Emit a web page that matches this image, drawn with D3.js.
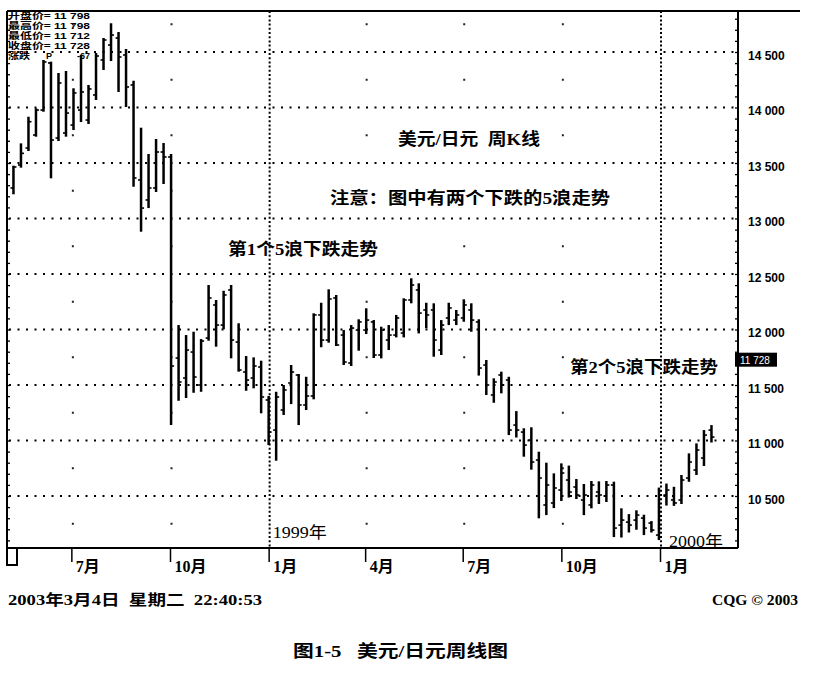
<!DOCTYPE html>
<html><head><meta charset="utf-8">
<script src="https://cdn.jsdelivr.net/npm/d3@7"></script>
<style>body{margin:0;background:#fff;}svg{display:block;}text{white-space:pre;}</style>
</head><body>
<script>
// ---- data (USD/JPY weekly, x100) ----
const firstWeek = new Date(1998, 4, 8);
const opens = [13275,13482,13635,13752,13977,14401,13725,13770,13842,13977,13887,14113,14428,14563,14626,14473,14203,13347,13167,13275,13599,13554,
  11743,11563,11797,11500,11923,12221,12040,12356,11887,11617,11563,11662,11365,11094,11275,11518,11590,11320,11401,12131,11905,12284,
  11950,11698,11995,11995,12068,11770,11905,11950,11968,12266,
  12356,12176,12176,11815,12104,12085,12104,12176,12068,11680,
  11410,11590,11545,11139,11076,11004,10824,10419,10437,10554,
  10644,10581,10464,10419,10536,10500,10599,10238,10265,10283,
  10301,10256,10148,10509,10464,10464,10662,10734,10842,11094];
const highs = [13476,13677,13917,13993,14428,14413,14311,14329,14173,14473,14203,14491,14626,14759,14680,14527,14241,13818,13581,13716,13680,13581,
  12040,11950,11980,11914,12401,12266,12349,12401,12056,11761,11749,11719,11401,11439,11500,11680,11599,11574,12146,12241,12362,12311,
  11995,12040,12092,12191,12085,12025,12040,12131,12281,12461,
  12416,12241,12236,12085,12241,12176,12272,12236,12092,11725,
  11560,11620,11574,11265,11110,11119,10899,10800,10704,10794,
  10774,10653,10608,10635,10632,10635,10629,10389,10337,10371,
  10331,10274,10576,10612,10583,10689,10884,10974,11094,11139];
const lows = [13218,13458,13608,13737,13962,13362,13698,13737,13797,13869,13851,14068,14338,14419,14140,14004,13286,12881,13094,13239,13311,11139,
  11358,11383,11430,11439,11899,11845,12002,11740,11620,11448,11470,11245,10959,10818,11230,11328,11139,11275,11371,11840,11881,11851,
  11680,11671,11809,11959,11743,11740,11815,11929,11929,12236,
  11965,12011,11755,11770,12040,12040,12070,11980,11585,11410,
  11340,11425,11049,11027,10854,10737,10299,10328,10391,10455,
  10486,10473,10328,10389,10428,10446,10130,10126,10171,10196,
  10148,10171,10103,10414,10411,10428,10628,10689,10770,10982];
const closes = [13464,13587,13872,13977,14410,13707,14221,13950,14131,14140,14167,14464,14608,14653,14455,14185,13365,13094,13275,13599,13554,11671,
  11527,11815,11572,11896,12284,12040,12311,11905,11635,11545,11671,11392,11076,11392,11455,11617,11320,11401,12131,11905,12275,11860,
  11707,12013,12068,12085,11770,11995,11950,12104,12266,12401,
  12148,12131,11905,12040,12194,12131,12221,12085,11653,11500,
  11527,11500,11094,11094,10959,10806,10662,10599,10572,10707,
  10536,10509,10509,10599,10509,10599,10211,10283,10238,10328,
  10211,10193,10509,10554,10437,10644,10806,10914,11049,11031];
const monthTicks = [new Date(1998,6,1),new Date(1998,9,1),new Date(1999,0,1),new Date(1999,3,1),new Date(1999,6,1),new Date(1999,9,1),new Date(2000,0,1)];
const monthLabels = ["7月","10月","1月","4月","7月","10月","1月"];
const yearLines = [new Date(1999,0,1), new Date(2000,0,1)];
const yearLabels = ["1999年","2000年"];
const priceTicks = [10500,11000,11500,12000,12500,13000,13500,14000,14500];
const legendNames = ["开盘价=","最高价=","最低价=","收盘价="];
const legendValues = ["11 798","11 798","11 712","11 728"];
const lastPrice = 11728;
const change = "-67";

const weeks = opens.map((d,i) => d3.timeDay.offset(firstWeek, 7*i));
const bars = weeks.map((w,i) => ({date:w, o:opens[i], h:highs[i], l:lows[i], c:closes[i]}));

// ---- layout ----
const L = 7, R = 738, T = 11, B = 548;
const x = d3.scaleTime().domain([new Date(1998,9,1), new Date(2000,0,1)]).range([170, 660]);
const y = d3.scaleLinear().domain([10500, 14500]).range([496, 52]);

const svg = d3.select("body").append("svg").attr("width",816).attr("height",677);
const serif = "'Liberation Serif','Noto Sans CJK SC',serif";
const sans = "'Liberation Sans','Noto Sans CJK SC',sans-serif";

// horizontal dotted grid
svg.append("g").selectAll("line").data(priceTicks).join("line")
  .attr("x1", L+2).attr("x2", R-2).attr("y1", d=>y(d)).attr("y2", d=>y(d))
  .attr("stroke","#000").attr("stroke-width",2).attr("stroke-dasharray","2,6.5");

// sparse dots of quarterly verticals
const quarterX = monthTicks.filter(d => d.getMonth() !== 0);
const midLevels = d3.range(10250, 14800, 500);
const dots = [];
quarterX.forEach(q => midLevels.forEach(m => dots.push([q, m])));
svg.append("g").selectAll("rect").data(dots).join("rect")
  .attr("x", d=>x(d[0])+0.5).attr("y", d=>y(d[1])-1).attr("width",2).attr("height",2).attr("fill","#222");

// year dotted verticals
svg.append("g").selectAll("line").data(yearLines).join("line")
  .attr("x1", d=>x(d)+1).attr("x2", d=>x(d)+1).attr("y1", T).attr("y2", B)
  .attr("stroke","#000").attr("stroke-width",2).attr("stroke-dasharray","2,2.2");

// OHLC bars
const gb = svg.append("g").attr("stroke","#000");
gb.selectAll("line.hl").data(bars).join("line").attr("class","hl")
  .attr("x1", d=>x(d.date)).attr("x2", d=>x(d.date)).attr("y1", d=>y(d.h)).attr("y2", d=>y(d.l))
  .attr("stroke-width",2.5);
gb.selectAll("line.o").data(bars).join("line").attr("class","o")
  .attr("x1", d=>x(d.date)-3).attr("x2", d=>x(d.date)).attr("y1", d=>y(d.o)).attr("y2", d=>y(d.o))
  .attr("stroke-width",1.6);
gb.selectAll("line.c").data(bars).join("line").attr("class","c")
  .attr("x1", d=>x(d.date)).attr("x2", d=>x(d.date)+3).attr("y1", d=>y(d.c)).attr("y2", d=>y(d.c))
  .attr("stroke-width",1.6);

// frame
const frame = svg.append("g").attr("stroke","#000").attr("fill","none").attr("stroke-width",2);
frame.append("line").attr("x1",L).attr("x2",800).attr("y1",T).attr("y2",T);
frame.append("line").attr("x1",R).attr("x2",R).attr("y1",T).attr("y2",B);
frame.append("line").attr("x1",L).attr("x2",R).attr("y1",B).attr("y2",B);
frame.append("path").attr("d", `M${L},${T}V565H17V${B}`);

// minor ruler ticks on left and right edges
const minor = d3.range(10100, 14900, 100);
svg.append("g").attr("transform",`translate(${R},0)`)
  .call(d3.axisLeft(y).tickValues(minor).tickSize(3).tickFormat(""))
  .call(g => g.select(".domain").remove());
svg.append("g").attr("transform",`translate(${L},0)`)
  .call(d3.axisRight(y).tickValues(minor).tickSize(3).tickFormat(""))
  .call(g => g.select(".domain").remove());
svg.selectAll(".tick line").attr("stroke-width",1.3);

// right price labels
svg.append("g").attr("transform",`translate(${R},0)`)
  .call(d3.axisRight(y).tickValues(priceTicks).tickSize(0).tickPadding(10)
    .tickFormat(d => d3.format(",")(d).replace(",", " ")))
  .call(g => g.select(".domain").remove())
  .call(g => g.selectAll("text").attr("font-family",sans).attr("font-weight","bold")
    .attr("font-size",12).attr("dy","0.6em").attr("fill","#000"));

// last price box
svg.append("rect").attr("x",R-3).attr("y",y(lastPrice)-7).attr("width",42).attr("height",14).attr("fill","#000");
svg.append("text").attr("x",R+2).attr("y",y(lastPrice)+4).attr("fill","#fff")
  .attr("font-family",sans).attr("font-size",10).text(d3.format(",")(lastPrice).replace(","," "));

// bottom month axis
svg.append("g").attr("transform",`translate(0,${B})`)
  .call(d3.axisBottom(x).tickValues(monthTicks).tickSize(14).tickPadding(0)
    .tickFormat((d,i) => monthLabels[i]))
  .call(g => g.select(".domain").remove())
  .call(g => g.selectAll(".tick line").attr("stroke-width",1.5))
  .call(g => g.selectAll("text").attr("text-anchor","start").attr("x",4).attr("y",24)
    .attr("dy",0).attr("font-family",serif).attr("font-weight","bold").attr("font-size",16).attr("fill","#000"));

// year labels
svg.append("g").selectAll("text").data(yearLines).join("text")
  .attr("x", (d,i)=>x(d)+(i===0 ? 4 : 9)).attr("y",(d,i)=> i===0 ? 538 : 547)
  .attr("font-family",serif).attr("font-size",16).attr("textLength",54).attr("lengthAdjust","spacingAndGlyphs")
  .text((d,i)=>yearLabels[i]);

// legend
const lg = svg.append("g").attr("font-family",sans).attr("font-weight","bold").attr("font-size",9);
legendNames.forEach((n,i) => {
  lg.append("text").attr("x",8).attr("y",19+i*10).attr("textLength",82).attr("lengthAdjust","spacingAndGlyphs")
    .text(n + " " + legendValues[i]);
});
lg.append("text").attr("x",8).attr("y",59).attr("textLength",22).attr("lengthAdjust","spacingAndGlyphs").text("涨跌");
lg.append("text").attr("x",46).attr("y",59).text("P");
lg.append("text").attr("x",90).attr("y",59).attr("text-anchor","end").text(change);

// annotations
const ann = [
  {t:"美元/日元  周K线", x:398, y:145, w:142},
  {t:"注意：图中有两个下跌的5浪走势", x:330, y:204, w:280},
  {t:"第1个5浪下跌走势", x:228, y:255, w:150},
  {t:"第2个5浪下跌走势", x:570, y:373, w:148}
];
svg.append("g").selectAll("text").data(ann).join("text")
  .attr("x",d=>d.x).attr("y",d=>d.y).attr("textLength",d=>d.w).attr("lengthAdjust","spacingAndGlyphs")
  .attr("font-family",serif).attr("font-weight","bold").attr("font-size",16.5).text(d=>d.t);

// footer
svg.append("text").attr("x",8).attr("y",605).attr("font-family",serif).attr("font-weight","bold")
  .attr("font-size",15).attr("textLength",254).attr("lengthAdjust","spacingAndGlyphs")
  .text("2003年3月4日  星期二  22:40:53");
svg.append("text").attr("x",712).attr("y",605).attr("font-family",serif).attr("font-weight","bold")
  .attr("font-size",14).attr("textLength",86).attr("lengthAdjust","spacingAndGlyphs").text("CQG © 2003");
svg.append("text").attr("x",293).attr("y",657).attr("font-family",serif).attr("font-weight","bold")
  .attr("font-size",17).attr("textLength",215).attr("lengthAdjust","spacingAndGlyphs").text("图1-5   美元/日元周线图");
</script>
</body></html>
